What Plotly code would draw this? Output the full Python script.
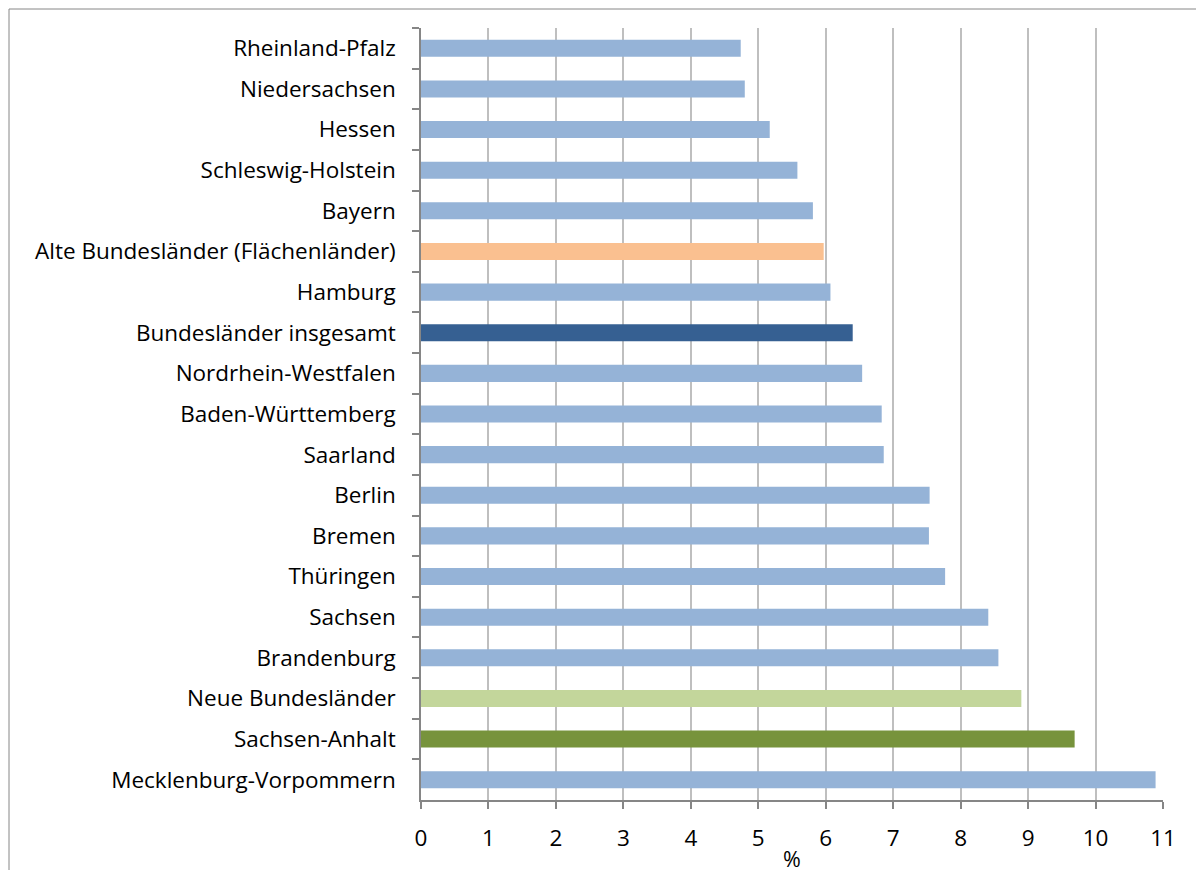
import plotly.graph_objects as go

categories = [
    "Rheinland-Pfalz", "Niedersachsen", "Hessen", "Schleswig-Holstein", "Bayern",
    "Alte Bundesländer (Flächenländer)", "Hamburg", "Bundesländer insgesamt",
    "Nordrhein-Westfalen", "Baden-Württemberg", "Saarland", "Berlin", "Bremen",
    "Thüringen", "Sachsen", "Brandenburg", "Neue Bundesländer", "Sachsen-Anhalt",
    "Mecklenburg-Vorpommern",
]
values = [4.74, 4.80, 5.17, 5.58, 5.81, 5.97, 6.07, 6.40, 6.54, 6.83, 6.86,
          7.54, 7.53, 7.77, 8.41, 8.56, 8.90, 9.69, 10.89]

special_colors = {
    "Alte Bundesländer (Flächenländer)": "#fac090",
    "Bundesländer insgesamt": "#366092",
    "Neue Bundesländer": "#c3d69b",
    "Sachsen-Anhalt": "#77933c",
}
default_color = "#95b3d7"
colors = [special_colors.get(c, default_color) for c in categories]

x_ticks = list(range(0, 12))

fig = go.Figure(
    go.Bar(
        x=values,
        y=categories,
        orientation="h",
        marker=dict(color=colors, line=dict(width=0)),
        width=0.42,
        hoverinfo="x+y",
    )
)

font_family = "'Open Sans', Lato, sans-serif"
FS = 22.5

ML, MR, MT, MB = 413, 49, 20, 78
plot_w = 1204 - ML - MR
plot_h = 870 - MT - MB

fig.update_layout(
    width=1204,
    height=870,
    margin=dict(l=ML, r=MR, t=MT, b=MB, autoexpand=False),
    paper_bgcolor="white",
    plot_bgcolor="white",
    showlegend=False,
    font=dict(family=font_family, size=FS, color="#000000"),
    xaxis=dict(
        range=[0, 11],
        tickvals=x_ticks,
        ticktext=[str(v) for v in x_ticks],
        showgrid=True,
        gridcolor="#bfbfbf",
        gridwidth=1.5,
        zeroline=False,
        showline=True,
        linecolor="#868686",
        linewidth=1.5,
        ticks="outside",
        ticklen=7,
        tickcolor="#868686",
        tickwidth=1.5,
        ticklabelstandoff=10,
        tickfont=dict(size=FS),
        title=dict(text="%", font=dict(size=FS - 1), standoff=0),
        automargin=False,
        fixedrange=True,
    ),
    yaxis=dict(
        categoryorder="array",
        categoryarray=categories,
        autorange="reversed",
        showgrid=False,
        zeroline=False,
        showline=True,
        linecolor="#868686",
        linewidth=1.5,
        ticks="outside",
        tickson="boundaries",
        ticklen=7,
        tickcolor="#868686",
        tickwidth=1.5,
        ticklabelstandoff=19,
        tickfont=dict(size=FS),
        automargin=False,
        fixedrange=True,
    ),
    shapes=[
        dict(
            type="rect",
            xref="paper", yref="paper",
            x0=-(ML - 1) / plot_w, x1=1.3,
            y0=-0.3, y1=1 + (MT - 1) / plot_h,
            line=dict(color="#868686", width=1),
            fillcolor="rgba(0,0,0,0)",
            layer="below",
        )
    ],
)

fig.write_html("out.html")
